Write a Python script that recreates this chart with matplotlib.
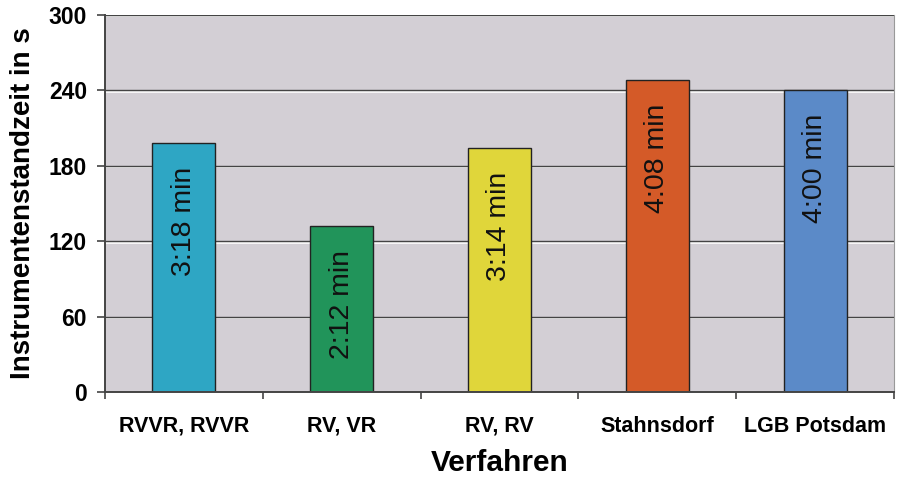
import matplotlib.pyplot as plt
import matplotlib.transforms as mtransforms

plt.rcParams['font.family'] = ['Liberation Sans', 'DejaVu Sans']

# Instrumentenstandzeit je Verfahren
verfahren = ['RVVR, RVVR', 'RV, VR', 'RV, RV', 'Stahnsdorf', 'LGB Potsdam']
sekunden = [198, 132, 194, 248, 240]
labels = ['3:18 min', '2:12 min', '3:14 min', '4:08 min', '4:00 min']
farben = ['#2ea6c4', '#21945a', '#e0d63a', '#d45a28', '#5b8ac8']

fig = plt.figure(figsize=(8.99, 4.78), dpi=100)
ax = fig.add_axes((0.1168, 0.18, 0.8776, 0.7887))
ax.set_facecolor('#d3cfd5')

x = range(len(verfahren))
ax.set_xlim(-0.5, len(verfahren) - 0.5)
ax.set_ylim(0, 300)
yticks = [0, 60, 120, 180, 240, 300]

# gridlines with the light edge underneath
hl = mtransforms.offset_copy(ax.get_yaxis_transform(), fig=fig, x=0, y=-1.5, units='dots')
for y in yticks[1:]:
    ax.plot([0, 1], [y, y], color='white', lw=1.2, zorder=1, transform=hl)
    ax.axhline(y, color='#444444', lw=1.0, zorder=1.5)

bars = ax.bar(x, sekunden, width=0.4, color=farben, edgecolor='#222222',
              linewidth=1.0, zorder=2)

for b, txt in zip(bars, labels):
    ax.annotate(txt, (b.get_x() + b.get_width() / 2, b.get_height()),
                xytext=(0, -17), textcoords='offset points',
                rotation=90, ha='center', va='top', fontsize=20.5,
                color='#111111', zorder=3)

ax.set_yticks(yticks)
ax.set_yticklabels([str(v) for v in yticks], fontsize=16.5, fontweight='bold')
ax.set_xticks(list(x))
ax.set_xticklabels(verfahren, fontsize=15.5, fontweight='bold')
ax.set_xticks([i + 0.5 for i in range(-1, len(verfahren))], minor=True)
ax.tick_params(axis='x', which='major', length=0, pad=17)
ax.tick_params(axis='x', which='minor', length=5, width=1.2, color='#444444')
ax.tick_params(axis='y', length=6, width=1.2, color='#444444', pad=7)

for s in ['left', 'bottom']:
    ax.spines[s].set_color('#444444')
    ax.spines[s].set_linewidth(1.4)
ax.spines['right'].set_color('#999999')
ax.spines['top'].set_visible(False)

ax.set_ylabel('Instrumentenstandzeit in s', fontsize=20, fontweight='bold', labelpad=9)
ax.set_xlabel('Verfahren', fontsize=21.5, fontweight='bold', labelpad=9)

plt.savefig('out.png', dpi=100)
